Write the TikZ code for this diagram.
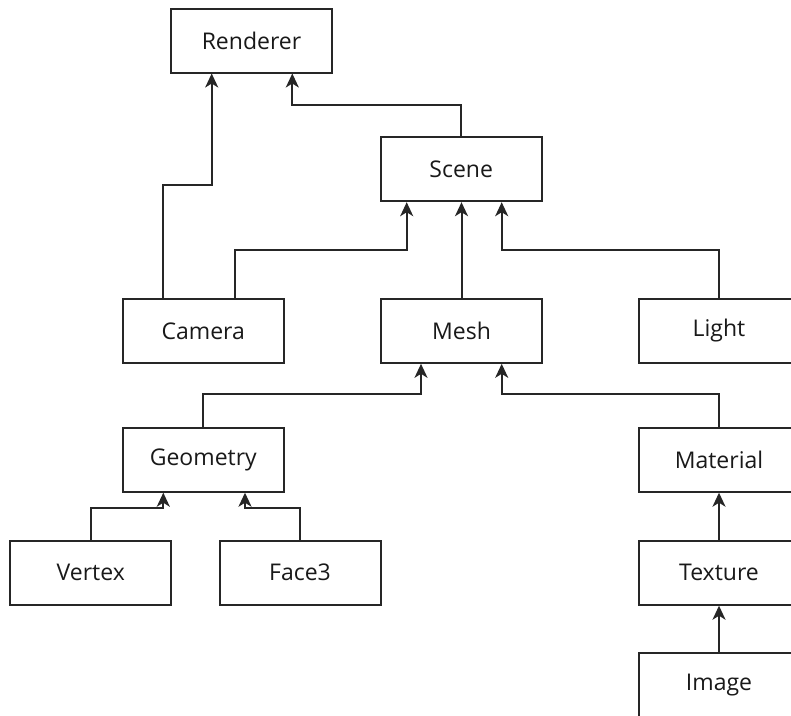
\documentclass[tikz,border=0pt]{standalone}
\usepackage{fontspec}
\setmainfont{Open Sans}
\usetikzlibrary{arrows.meta}
\begin{document}
\begin{tikzpicture}[x=1pt,y=-1pt,
  box/.style={draw=black!85, line width=2pt, rectangle, minimum width=161pt,
    minimum height=64pt, inner sep=0pt, font=\fontsize{23}{27}\selectfont, text=black!90},
  conn/.style={draw=black!85, line width=2pt,
    -{Stealth[length=14pt,width=13pt,inset=4pt]}}]
\clip (0,0) rectangle (791,715);
\fill[white] (0,0) rectangle (791,715);

% class boxes
\node[box] (Renderer) at (251.5,40.5) {Renderer};
\node[box] (Scene)    at (461.2,169.2) {Scene};
\node[box] (Camera)   at (203.3,330.8) {Camera};
\node[box] (Mesh)     at (461.5,330.8) {Mesh};
\node[box] (Light)    at (719,330.8) {Light};
\node[box] (Geometry) at (203.3,459.7) {Geometry};
\node[box] (Material) at (719,459.7) {Material};
\node[box] (Vertex)   at (90.8,572.7) {Vertex};
\node[box] (Face3)    at (300,572.7) {Face3};
\node[box] (Texture)  at (719,572.7) {Texture};
\node[box] (Image)    at (719,685) {Image};

% connectors to Renderer
\draw[conn] ([xshift=-40pt]Camera.north) -- ++(0,-112.6) -| ([xshift=-39.8pt]Renderer.south);
\draw[conn] (Scene.north) -- ++(0,-31.4) -| ([xshift=40.8pt]Renderer.south);

% connectors to Scene
\draw[conn] ([xshift=32pt]Camera.north) -- ++(0,-48.3) -| ([xshift=-54.5pt]Scene.south);
\draw[conn] (Mesh.north) -- (Scene.south -| Mesh.north);
\draw[conn] (Light.north) -- ++(0,-48.3) -| ([xshift=40.5pt]Scene.south);

% connectors to Mesh
\draw[conn] (Geometry.north) -- ++(0,-32.7) -| ([xshift=-40.5pt]Mesh.south);
\draw[conn] (Material.north) -- ++(0,-32.7) -| ([xshift=40.2pt]Mesh.south);

% connectors to Geometry
\draw[conn] (Vertex.north) -- ++(0,-32) -| ([xshift=-40pt]Geometry.south);
\draw[conn] (Face3.north) -- ++(0,-32) -| ([xshift=41.7pt]Geometry.south);

% texture chain
\draw[conn] (Texture.north) -- (Material.south);
\draw[conn] (Image.north) -- (Texture.south);
\end{tikzpicture}
\end{document}
